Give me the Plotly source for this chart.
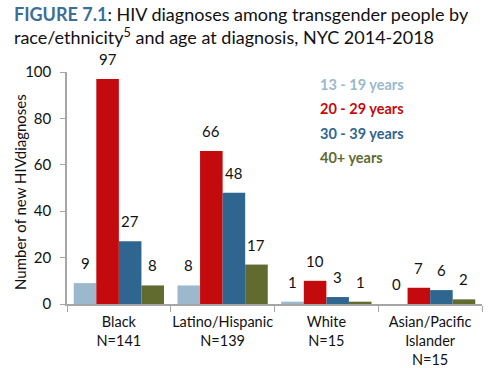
import plotly.graph_objects as go

categories = ["Black<br>N=141", "Latino/Hispanic<br>N=139", "White<br>N=15", "Asian/Pacific<br>Islander<br>N=15"]
series_names = ["13 - 19 years", "20 - 29 years", "30 - 39 years", "40+ years"]
age_13_19 = [9, 8, 1, 0]
age_20_29 = [97, 66, 10, 7]
age_30_39 = [27, 48, 3, 6]
age_40_plus = [8, 17, 1, 2]
series_values = [age_13_19, age_20_29, age_30_39, age_40_plus]
colors = ["#9bb8cd", "#c30b0e", "#2f6690", "#616b30"]
y_ticks = [0, 20, 40, 60, 80, 100]

FONT = "Lato"
L, R, T, B = 67, 18, 72, 64
W, H = 500, 368
bargap = 0.13
group_px = (W - L - R) / len(categories)
bar_px = group_px * (1 - bargap) / len(series_values)

fig = go.Figure()
for name, vals, col in zip(series_names, series_values, colors):
    fig.add_trace(go.Bar(x=categories, y=vals, name=name, marker=dict(color=col, line=dict(width=0)),
                         showlegend=False))

annotations = []
n = len(series_values)
for j, (vals, col) in enumerate(zip(series_values, colors)):
    for i, v in enumerate(vals):
        annotations.append(dict(x=categories[i], y=v, xref="x", yref="y", text=str(v),
                                showarrow=False, yanchor="bottom", yshift=9,
                                xshift=(j - (n - 1) / 2) * bar_px,
                                font=dict(family=FONT, size=15, color="#111111")))
pw, ph = W - L - R, H - T - B
# legend as colored text
for j, (name, col) in enumerate(zip(series_names, colors)):
    annotations.append(dict(x=(318 - L) / pw, y=(H - B - (84 + j * 24.5)) / ph, xref="paper", yref="paper",
                            text="<b>" + name + "</b>",
                            showarrow=False, xanchor="left", yanchor="middle",
                            font=dict(family=FONT, size=14.5, color=col)))
# y-axis title
annotations.append(dict(x=(20 - L) / pw, y=(H - B - 192) / ph, xref="paper", yref="paper",
                        text="Number of new HIVdiagnoses", textangle=-90, showarrow=False,
                        xanchor="center", yanchor="middle",
                        font=dict(family=FONT, size=15, color="#111111")))

fig.update_layout(
    width=W, height=H,
    margin=dict(l=L, r=R, t=T, b=B, autoexpand=False),
    paper_bgcolor="white", plot_bgcolor="white",
    barmode="group", bargap=bargap, bargroupgap=0,
    title=dict(
        text="<b><span style='color:#3c6e98'>FIGURE 7.1</span></b>: HIV diagnoses among transgender people by<br>race/ethnicity<sup>5</sup> and age at diagnosis, NYC 2014-2018",
        x=14 / W, xanchor="left", xref="container", y=1 - 21 / H, yanchor="top", yref="container",
        font=dict(family=FONT, size=18, color="#111111")),
    font=dict(family=FONT, color="#111111"),
    annotations=annotations,
    xaxis=dict(showline=True, linecolor="#a6a6a6", linewidth=1.5, ticks="outside", tickson="boundaries",
               ticklen=6, tickcolor="#a6a6a6", tickfont=dict(family=FONT, size=14.5, color="#111111"),
               tickangle=0, automargin=False, showgrid=False, ticklabelstandoff=4),
    yaxis=dict(range=[0, 100], tickvals=y_ticks, showline=True, linecolor="#a6a6a6", linewidth=1.5,
               ticks="outside", ticklen=5, tickcolor="#a6a6a6", showgrid=False, zeroline=False,
               automargin=False, ticklabelstandoff=6,
               tickfont=dict(family=FONT, size=15, color="#111111")),
)

fig.write_html("out.html", config={"displayModeBar": False},
               post_script="document.body.style.margin='0';document.body.style.padding='0';")
